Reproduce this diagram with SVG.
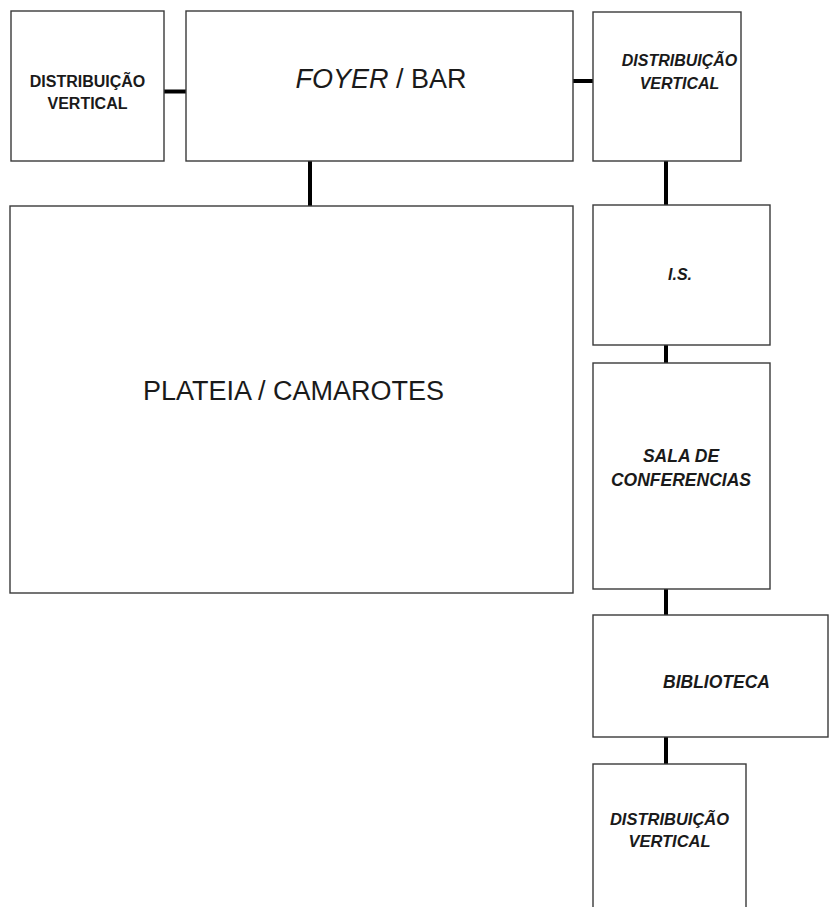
<svg xmlns="http://www.w3.org/2000/svg" width="830" height="907" viewBox="0 0 830 907">
<style>
.box{fill:#fff;stroke:#3a3a3a;stroke-width:1.4}
.con{stroke:#000;stroke-width:4;fill:none}
text{font-family:"Liberation Sans",Arial,sans-serif;fill:#1a1a1a;text-anchor:middle}
.b{font-weight:bold}
.bi{font-weight:bold;font-style:italic}
</style>
<rect width="830" height="907" fill="#fff"/>
<g id="connectors">
<line class="con" x1="164" y1="91.5" x2="186" y2="91.5"/>
<line class="con" x1="573" y1="81" x2="593" y2="81"/>
<line class="con" x1="310" y1="161" x2="310" y2="206"/>
<line class="con" x1="666" y1="161" x2="666" y2="205"/>
<line class="con" x1="666" y1="345" x2="666" y2="363"/>
<line class="con" x1="666" y1="589" x2="666" y2="615"/>
<line class="con" x1="666" y1="737" x2="666" y2="764"/>
</g>
<g id="dv-left">
<rect class="box" x="11" y="11" width="153" height="150"/>
<text class="b" x="87.5" y="87" font-size="16">DISTRIBUIÇÃO</text>
<text class="b" x="87.5" y="109" font-size="16">VERTICAL</text>
</g>
<g id="foyer">
<rect class="box" x="186" y="11" width="387" height="150"/>
<text x="381" y="88" font-size="27"><tspan font-style="italic">FOYER</tspan> / BAR</text>
</g>
<g id="dv-right">
<rect class="box" x="593" y="12" width="148" height="149"/>
<text class="bi" x="679.5" y="66" font-size="16">DISTRIBUIÇÃO</text>
<text class="bi" x="679.5" y="89" font-size="16">VERTICAL</text>
</g>
<g id="plateia">
<rect class="box" x="10" y="206" width="563" height="387"/>
<text x="293.5" y="400" font-size="27">PLATEIA / CAMAROTES</text>
</g>
<g id="is">
<rect class="box" x="593" y="205" width="177" height="140"/>
<text class="bi" x="680" y="280" font-size="16">I.S.</text>
</g>
<g id="sala">
<rect class="box" x="593" y="363" width="177" height="226"/>
<text class="bi" x="681" y="462" font-size="17.5">SALA DE</text>
<text class="bi" x="681" y="486" font-size="17.5">CONFERENCIAS</text>
</g>
<g id="biblioteca">
<rect class="box" x="593" y="615" width="235" height="122"/>
<text class="bi" x="716.5" y="688" font-size="17.5">BIBLIOTECA</text>
</g>
<g id="dv-bottom">
<rect class="box" x="593" y="764" width="153" height="150"/>
<text class="bi" x="669.5" y="825" font-size="16.5">DISTRIBUIÇÃO</text>
<text class="bi" x="669.5" y="847" font-size="16.5">VERTICAL</text>
</g>
</svg>
